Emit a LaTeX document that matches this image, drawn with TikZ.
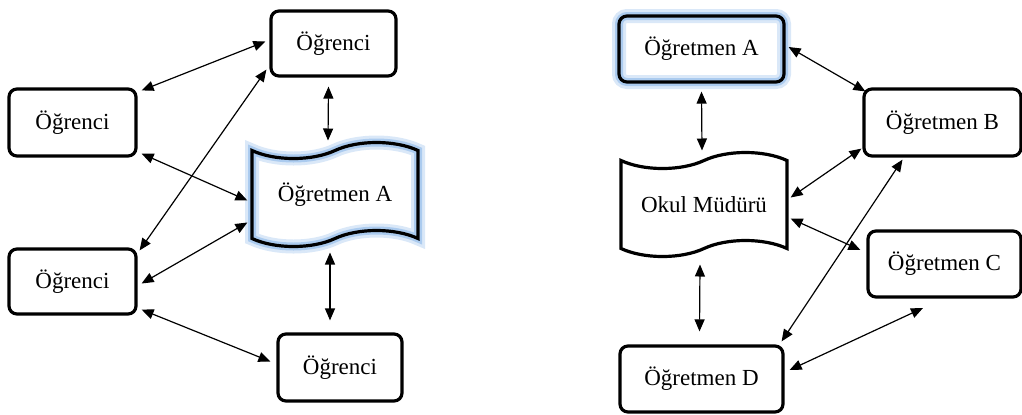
\documentclass[tikz,border=0pt]{standalone}
\usepackage{fontspec}
\setmainfont{Liberation Serif}
\usetikzlibrary{calc}
\usetikzlibrary{positioning}
\usetikzlibrary{arrows.meta}
\usetikzlibrary{shapes.symbols}

\definecolor{glowblue}{RGB}{150,190,235}

\begin{document}
\begin{tikzpicture}[%
  x=0.5pt, y=-0.5pt,
  >={Triangle[length=6pt,width=5pt]},
  every node/.style={font=\fontsize{11.5}{13}\selectfont},
  box/.style={draw, line width=1.6pt, rounded corners=4pt, inner sep=0pt},
  tapebox/.style={draw, tape, line width=1.6pt, inner sep=0pt,
    minimum width=83pt, minimum height=52pt, tape bend height=8pt},
  glow/.style={preaction={draw=glowblue!35, line width=7pt},
    preaction={draw=glowblue!80, line width=4pt}},
  link/.style={<->, line width=0.6pt},
]

  \useasboundingbox (0,0) rectangle (1022,414);

  % ogretmen ve ogrenciler
  \node[box, minimum width=62.5pt, minimum height=32.5pt] (ogrT) at (333.5,43.5) {Öğrenci};
  \node[box, minimum width=63.5pt, minimum height=33.5pt] (ogrL) at (72.5,122.5) {Öğrenci};
  \node[box, minimum width=63.5pt, minimum height=32.5pt] (ogrLB) at (72.5,281.5) {Öğrenci};
  \node[box, minimum width=62pt, minimum height=33.5pt] (ogrB) at (340,367.5) {Öğrenci};
  \node[tapebox, glow] (ogrtA) at (335,194.5) {Öğretmen A};

  \draw[link] ($(ogrL.north east)+(4,3)$) -- ($(ogrT.west)+(-4,-2)$);
  \draw[link] ($(ogrL.south east)+(4,-4)$) -- ($(ogrtA.west)+(-3,6)$);
  \draw[link] ($(ogrLB.north east)+(2,3)$) -- ($(ogrT.south west)+(-3,-8)$);
  \draw[link] ($(ogrLB.east)+(4,2)$) -- ($(ogrtA.west)+(-3,28)$);
  \draw[link] ($(ogrLB.south east)+(4,-6)$) -- ($(ogrB.west)+(-6,-6)$);
  \draw[link] ($(ogrT.south)+(-5,9)$) -- ($(ogrtA.center)+(-7,-54)$);
  \draw[link] ($(ogrtA.center)+(-5,58)$) -- ($(ogrB.north)+(-10,-12)$);

  % mudur ve ogretmenler
  \node[box, glow, minimum width=82.5pt, minimum height=33pt] (ogmA) at (701.5,49) {Öğretmen A};
  \node[box, minimum width=78.5pt, minimum height=33.5pt] (ogmB) at (942.5,122.5) {Öğretmen B};
  \node[box, minimum width=76.5pt, minimum height=33pt] (ogmC) at (944.5,264) {Öğretmen C};
  \node[box, minimum width=81.5pt, minimum height=33pt] (ogmD) at (701.5,379) {Öğretmen D};
  \node[tapebox] (mudur) at (704,204.5) {Okul Müdürü};

  \coordinate (ogmCfree) at (923,308);

  \draw[link] ($(ogmA.east)+(3,-2)$) -- ($(ogmB.north west)+(3,4)$);
  \draw[link] ($(ogmA.south)+(0,8)$) -- ($(mudur.center)+(-2,-54)$);
  \draw[link] ($(mudur.east)+(2,-7)$) -- ($(ogmB.south west)+(-1,-9)$);
  \draw[link] ($(mudur.east)+(2,14)$) -- ($(ogmC.west)+(-6,-14)$);
  \draw[link] ($(ogmD.north east)+(-3,-3)$) -- ($(ogmB.south)+(-40,2)$);
  \draw[link] ($(mudur.center)+(-4,60)$) -- ($(ogmD.north)+(-2,-13)$);
  \draw[link] ($(ogmD.east)+(5,-9)$) -- (ogmCfree);

\end{tikzpicture}
\end{document}
